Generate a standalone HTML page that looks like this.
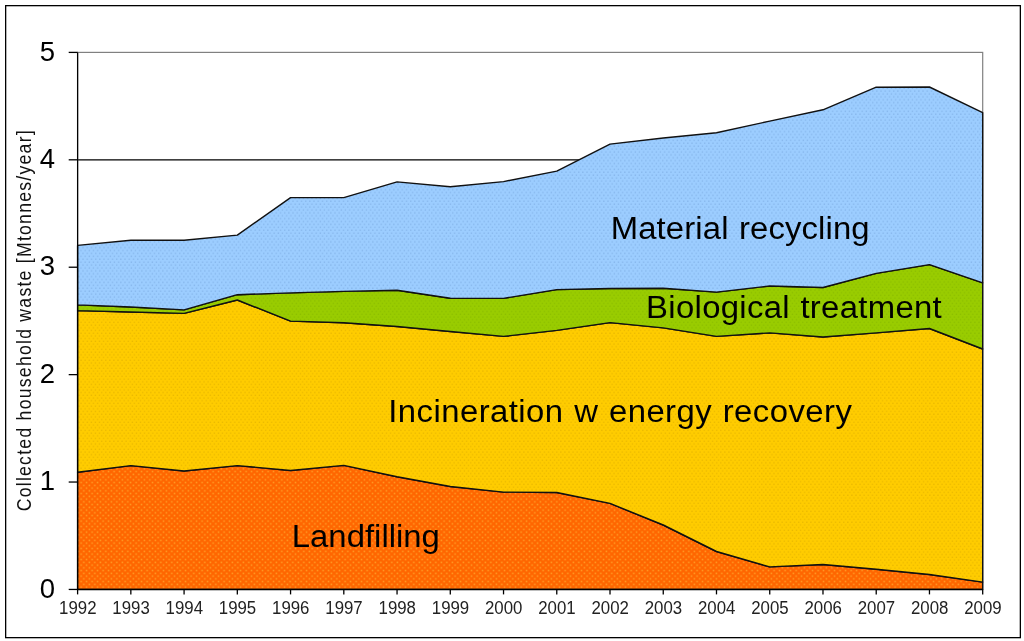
<!DOCTYPE html>
<html><head><meta charset="utf-8"><style>
html,body{margin:0;padding:0;background:#fff;width:1024px;height:641px;overflow:hidden;}
svg{display:block;font-family:"Liberation Sans",sans-serif;will-change:transform;}
</style></head><body>
<svg width="1024" height="641" viewBox="0 0 1024 641">
<defs>
<pattern id="pO" width="5.5" height="5.5" patternUnits="userSpaceOnUse"><rect width="5.5" height="5.5" fill="#FF6600"/><rect x="0.6" y="0.6" width="1.5" height="1.5" fill="#FFA028"/><rect x="3.35" y="3.35" width="1.5" height="1.5" fill="#FFA028"/></pattern>
<pattern id="pY" width="4.1" height="5.4" patternUnits="userSpaceOnUse"><rect width="4.1" height="5.4" fill="#FFCC00"/><rect x="0.5" y="0.5" width="1.3" height="1.3" fill="#E0B000" opacity="0.7"/><rect x="2.55" y="3.2" width="1.3" height="1.3" fill="#E0B000" opacity="0.7"/></pattern>
<pattern id="pG" width="4.1" height="5.4" patternUnits="userSpaceOnUse"><rect width="4.1" height="5.4" fill="#99CC00"/><rect x="0.5" y="0.5" width="1.3" height="1.3" fill="#7AAA00" opacity="0.45"/><rect x="2.55" y="3.2" width="1.3" height="1.3" fill="#7AAA00" opacity="0.45"/></pattern>
<pattern id="pB" width="4.2" height="5.8" patternUnits="userSpaceOnUse"><rect width="4.2" height="5.8" fill="#9CCDFF"/><rect x="0.5" y="0.5" width="1.3" height="1.3" fill="#7AAAE0" opacity="0.7"/><rect x="2.6" y="3.4" width="1.3" height="1.3" fill="#7AAAE0" opacity="0.7"/></pattern>
</defs>
<rect x="0" y="0" width="1024" height="641" fill="#FFFFFF"/>
<rect x="5.65" y="5.65" width="1014.7" height="632" fill="none" stroke="#000" stroke-width="1.3"/>
<line x1="77.6" y1="482.04" x2="982.7" y2="482.04" stroke="#000" stroke-width="1.2"/>
<line x1="77.6" y1="374.63" x2="982.7" y2="374.63" stroke="#000" stroke-width="1.2"/>
<line x1="77.6" y1="267.22" x2="982.7" y2="267.22" stroke="#000" stroke-width="1.2"/>
<line x1="77.6" y1="159.81" x2="982.7" y2="159.81" stroke="#000" stroke-width="1.2"/>
<rect x="77.6" y="52.4" width="905.1" height="537.05" fill="none" stroke="#808080" stroke-width="1.2"/>
<polygon points="77.60,472.20 130.84,465.60 184.08,471.00 237.32,465.60 290.56,470.50 343.81,465.40 397.05,476.80 450.29,486.50 503.53,492.10 556.77,492.50 610.01,503.40 663.25,525.00 716.49,551.50 769.74,566.90 822.98,564.50 876.22,569.20 929.46,574.50 982.70,582.10 982.70,589.45 929.46,589.45 876.22,589.45 822.98,589.45 769.74,589.45 716.49,589.45 663.25,589.45 610.01,589.45 556.77,589.45 503.53,589.45 450.29,589.45 397.05,589.45 343.81,589.45 290.56,589.45 237.32,589.45 184.08,589.45 130.84,589.45 77.60,589.45" fill="url(#pO)" stroke="#111" stroke-width="1.4" stroke-linejoin="round"/>
<polygon points="77.60,310.60 130.84,312.00 184.08,313.40 237.32,300.00 290.56,321.10 343.81,322.70 397.05,326.50 450.29,331.50 503.53,336.40 556.77,330.40 610.01,322.60 663.25,327.90 716.49,336.40 769.74,332.90 822.98,337.00 876.22,332.90 929.46,328.50 982.70,349.00 982.70,582.10 929.46,574.50 876.22,569.20 822.98,564.50 769.74,566.90 716.49,551.50 663.25,525.00 610.01,503.40 556.77,492.50 503.53,492.10 450.29,486.50 397.05,476.80 343.81,465.40 290.56,470.50 237.32,465.60 184.08,471.00 130.84,465.60 77.60,472.20" fill="url(#pY)" stroke="#111" stroke-width="1.4" stroke-linejoin="round"/>
<polygon points="77.60,304.90 130.84,307.00 184.08,309.90 237.32,294.70 290.56,292.90 343.81,291.40 397.05,290.20 450.29,298.30 503.53,298.40 556.77,289.60 610.01,288.50 663.25,288.30 716.49,292.10 769.74,286.00 822.98,287.50 876.22,273.40 929.46,264.60 982.70,282.80 982.70,349.00 929.46,328.50 876.22,332.90 822.98,337.00 769.74,332.90 716.49,336.40 663.25,327.90 610.01,322.60 556.77,330.40 503.53,336.40 450.29,331.50 397.05,326.50 343.81,322.70 290.56,321.10 237.32,300.00 184.08,313.40 130.84,312.00 77.60,310.60" fill="url(#pG)" stroke="#111" stroke-width="1.4" stroke-linejoin="round"/>
<polygon points="77.60,245.40 130.84,240.30 184.08,240.30 237.32,235.10 290.56,197.60 343.81,197.60 397.05,181.90 450.29,186.80 503.53,181.60 556.77,171.10 610.01,144.10 663.25,138.00 716.49,132.70 769.74,121.10 822.98,109.80 876.22,87.20 929.46,87.00 982.70,112.70 982.70,282.80 929.46,264.60 876.22,273.40 822.98,287.50 769.74,286.00 716.49,292.10 663.25,288.30 610.01,288.50 556.77,289.60 503.53,298.40 450.29,298.30 397.05,290.20 343.81,291.40 290.56,292.90 237.32,294.70 184.08,309.90 130.84,307.00 77.60,304.90" fill="url(#pB)" stroke="#111" stroke-width="1.4" stroke-linejoin="round"/>
<line x1="77.6" y1="52.4" x2="77.6" y2="589.45" stroke="#000" stroke-width="1.25"/>
<line x1="77.6" y1="589.45" x2="982.7" y2="589.45" stroke="#000" stroke-width="1.25"/>
<line x1="68.7" y1="589.45" x2="77.6" y2="589.45" stroke="#000" stroke-width="1.3"/>
<line x1="68.7" y1="482.04" x2="77.6" y2="482.04" stroke="#000" stroke-width="1.3"/>
<line x1="68.7" y1="374.63" x2="77.6" y2="374.63" stroke="#000" stroke-width="1.3"/>
<line x1="68.7" y1="267.22" x2="77.6" y2="267.22" stroke="#000" stroke-width="1.3"/>
<line x1="68.7" y1="159.81" x2="77.6" y2="159.81" stroke="#000" stroke-width="1.3"/>
<line x1="68.7" y1="52.40" x2="77.6" y2="52.40" stroke="#000" stroke-width="1.3"/>
<line x1="77.60" y1="589.45" x2="77.60" y2="594.4" stroke="#000" stroke-width="1.3"/>
<line x1="130.84" y1="589.45" x2="130.84" y2="594.4" stroke="#000" stroke-width="1.3"/>
<line x1="184.08" y1="589.45" x2="184.08" y2="594.4" stroke="#000" stroke-width="1.3"/>
<line x1="237.32" y1="589.45" x2="237.32" y2="594.4" stroke="#000" stroke-width="1.3"/>
<line x1="290.56" y1="589.45" x2="290.56" y2="594.4" stroke="#000" stroke-width="1.3"/>
<line x1="343.81" y1="589.45" x2="343.81" y2="594.4" stroke="#000" stroke-width="1.3"/>
<line x1="397.05" y1="589.45" x2="397.05" y2="594.4" stroke="#000" stroke-width="1.3"/>
<line x1="450.29" y1="589.45" x2="450.29" y2="594.4" stroke="#000" stroke-width="1.3"/>
<line x1="503.53" y1="589.45" x2="503.53" y2="594.4" stroke="#000" stroke-width="1.3"/>
<line x1="556.77" y1="589.45" x2="556.77" y2="594.4" stroke="#000" stroke-width="1.3"/>
<line x1="610.01" y1="589.45" x2="610.01" y2="594.4" stroke="#000" stroke-width="1.3"/>
<line x1="663.25" y1="589.45" x2="663.25" y2="594.4" stroke="#000" stroke-width="1.3"/>
<line x1="716.49" y1="589.45" x2="716.49" y2="594.4" stroke="#000" stroke-width="1.3"/>
<line x1="769.74" y1="589.45" x2="769.74" y2="594.4" stroke="#000" stroke-width="1.3"/>
<line x1="822.98" y1="589.45" x2="822.98" y2="594.4" stroke="#000" stroke-width="1.3"/>
<line x1="876.22" y1="589.45" x2="876.22" y2="594.4" stroke="#000" stroke-width="1.3"/>
<line x1="929.46" y1="589.45" x2="929.46" y2="594.4" stroke="#000" stroke-width="1.3"/>
<line x1="982.70" y1="589.45" x2="982.70" y2="594.4" stroke="#000" stroke-width="1.3"/>
<text x="55.0" y="597.65" text-anchor="end" font-family="Liberation Sans" font-size="27.5" fill="#000">0</text>
<text x="55.0" y="490.24" text-anchor="end" font-family="Liberation Sans" font-size="27.5" fill="#000">1</text>
<text x="55.0" y="382.83" text-anchor="end" font-family="Liberation Sans" font-size="27.5" fill="#000">2</text>
<text x="55.0" y="275.42" text-anchor="end" font-family="Liberation Sans" font-size="27.5" fill="#000">3</text>
<text x="55.0" y="168.01" text-anchor="end" font-family="Liberation Sans" font-size="27.5" fill="#000">4</text>
<text x="55.0" y="60.60" text-anchor="end" font-family="Liberation Sans" font-size="27.5" fill="#000">5</text>
<text x="77.80" y="613.5" text-anchor="middle" font-family="Liberation Sans" font-size="17.6" fill="#222" textLength="37.4" lengthAdjust="spacingAndGlyphs">1992</text>
<text x="131.04" y="613.5" text-anchor="middle" font-family="Liberation Sans" font-size="17.6" fill="#222" textLength="37.4" lengthAdjust="spacingAndGlyphs">1993</text>
<text x="184.28" y="613.5" text-anchor="middle" font-family="Liberation Sans" font-size="17.6" fill="#222" textLength="37.4" lengthAdjust="spacingAndGlyphs">1994</text>
<text x="237.52" y="613.5" text-anchor="middle" font-family="Liberation Sans" font-size="17.6" fill="#222" textLength="37.4" lengthAdjust="spacingAndGlyphs">1995</text>
<text x="290.76" y="613.5" text-anchor="middle" font-family="Liberation Sans" font-size="17.6" fill="#222" textLength="37.4" lengthAdjust="spacingAndGlyphs">1996</text>
<text x="344.01" y="613.5" text-anchor="middle" font-family="Liberation Sans" font-size="17.6" fill="#222" textLength="37.4" lengthAdjust="spacingAndGlyphs">1997</text>
<text x="397.25" y="613.5" text-anchor="middle" font-family="Liberation Sans" font-size="17.6" fill="#222" textLength="37.4" lengthAdjust="spacingAndGlyphs">1998</text>
<text x="450.49" y="613.5" text-anchor="middle" font-family="Liberation Sans" font-size="17.6" fill="#222" textLength="37.4" lengthAdjust="spacingAndGlyphs">1999</text>
<text x="503.73" y="613.5" text-anchor="middle" font-family="Liberation Sans" font-size="17.6" fill="#222" textLength="37.4" lengthAdjust="spacingAndGlyphs">2000</text>
<text x="556.97" y="613.5" text-anchor="middle" font-family="Liberation Sans" font-size="17.6" fill="#222" textLength="37.4" lengthAdjust="spacingAndGlyphs">2001</text>
<text x="610.21" y="613.5" text-anchor="middle" font-family="Liberation Sans" font-size="17.6" fill="#222" textLength="37.4" lengthAdjust="spacingAndGlyphs">2002</text>
<text x="663.45" y="613.5" text-anchor="middle" font-family="Liberation Sans" font-size="17.6" fill="#222" textLength="37.4" lengthAdjust="spacingAndGlyphs">2003</text>
<text x="716.69" y="613.5" text-anchor="middle" font-family="Liberation Sans" font-size="17.6" fill="#222" textLength="37.4" lengthAdjust="spacingAndGlyphs">2004</text>
<text x="769.94" y="613.5" text-anchor="middle" font-family="Liberation Sans" font-size="17.6" fill="#222" textLength="37.4" lengthAdjust="spacingAndGlyphs">2005</text>
<text x="823.18" y="613.5" text-anchor="middle" font-family="Liberation Sans" font-size="17.6" fill="#222" textLength="37.4" lengthAdjust="spacingAndGlyphs">2006</text>
<text x="876.42" y="613.5" text-anchor="middle" font-family="Liberation Sans" font-size="17.6" fill="#222" textLength="37.4" lengthAdjust="spacingAndGlyphs">2007</text>
<text x="929.66" y="613.5" text-anchor="middle" font-family="Liberation Sans" font-size="17.6" fill="#222" textLength="37.4" lengthAdjust="spacingAndGlyphs">2008</text>
<text x="982.90" y="613.5" text-anchor="middle" font-family="Liberation Sans" font-size="17.6" fill="#222" textLength="37.4" lengthAdjust="spacingAndGlyphs">2009</text>
<text transform="translate(30.8,511.3) rotate(-90) scale(0.86,1)" x="0" y="0" font-family="Liberation Sans" font-size="20.5" fill="#111" textLength="443" lengthAdjust="spacing">Collected household waste [Mtonnes/year]</text>
<text transform="translate(610.66,239.4) scale(1.06,1)" x="0" y="0" font-family="Liberation Sans" font-size="31" fill="#000" word-spacing="1" textLength="244.33" lengthAdjust="spacing">Material recycling</text>
<text transform="translate(646.10,317.9) scale(1.06,1)" x="0" y="0" font-family="Liberation Sans" font-size="31" fill="#000" word-spacing="1" textLength="278.87" lengthAdjust="spacing">Biological treatment</text>
<text transform="translate(388.30,421.6) scale(1.06,1)" x="0" y="0" font-family="Liberation Sans" font-size="31" fill="#000" word-spacing="1" textLength="437.27" lengthAdjust="spacing">Incineration w energy recovery</text>
<text transform="translate(291.80,547.3) scale(1.06,1)" x="0" y="0" font-family="Liberation Sans" font-size="31" fill="#000" word-spacing="1" textLength="139.71" lengthAdjust="spacing">Landfilling</text>
</svg>
</body></html>
